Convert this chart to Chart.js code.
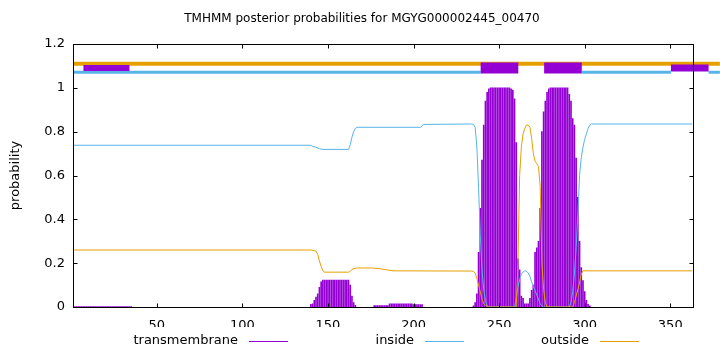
<!DOCTYPE html>
<html>
<head>
<meta charset="utf-8">
<title>TMHMM posterior probabilities</title>
<script src="https://cdn.jsdelivr.net/npm/chart.js@4"></script>
<style>
  body { margin: 0; background: #fff; }
</style>
</head>
<body>
<canvas id="tmhmm" width="720" height="352"></canvas>
<script>
    // ---- data ----
    const plotTitle = 'TMHMM posterior probabilities for MGYG000002445_00470';
    const seqLength = 363;
    const xTicks = [50, 100, 150, 200, 250, 300, 350];
    const yTicks = [0, 0.2, 0.4, 0.6, 0.8, 1, 1.2];
    const yTickLabels = ['0', '0.2', '0.4', '0.6', '0.8', '1', '1.2'];

    // transmembrane posterior, [residue, probability] (drawn as impulses)
    const tmPosterior = [
        [1,.002],[2,.002],[3,.002],[4,.002],[5,.002],[6,.002],[7,.002],[8,.002],[9,.002],[10,.002],
        [11,.002],[12,.002],[13,.002],[14,.002],[15,.002],[16,.002],[17,.002],[18,.002],[19,.002],[20,.002],
        [21,.002],[22,.002],[23,.002],[24,.002],[25,.002],[26,.002],[27,.002],[28,.002],[29,.002],[30,.002],
        [31,.002],[32,.002],[33,.002],[34,.002],[35,.002],
        [140,.012],[141,.015],[142,.03],[143,.045],[144,.06],[145,.09],[146,.115],[147,.123],[148,.123],[149,.123],
        [150,.123],[151,.123],[152,.123],[153,.123],[154,.123],[155,.123],[156,.123],[157,.123],[158,.123],[159,.123],
        [160,.123],[161,.123],[162,.123],[163,.1],[164,.05],[165,.02],[166,.008],
        [177,.006],[178,.006],[179,.006],[180,.006],[181,.006],[182,.006],[183,.006],[184,.006],[185,.006],
        [186,.015],[187,.015],[188,.015],[189,.015],[190,.015],[191,.015],[192,.015],[193,.015],[194,.015],[195,.015],
        [196,.015],[197,.015],[198,.015],[199,.015],[200,.011],[201,.011],[202,.011],[203,.011],[204,.011],[205,.011],
        [235,.005],[236,.02],[237,.06],[238,.25],[239,.45],[240,.67],[241,.83],[242,.94],[243,.98],[244,.995],
        [245,1],[246,1],[247,1],[248,1],[249,1],[250,1],[251,1],[252,1],[253,1],[254,1],[255,1],[256,1],
        [257,.995],[258,.99],[259,.95],[260,.75],[261,.22],[262,.17],[263,.05],[264,.04],[265,.015],[266,.015],
        [267,.015],[268,.04],[269,.076],[270,.1],[271,.25],[272,.27],[273,.3],[274,.45],[275,.8],[276,.89],
        [277,.94],[278,.98],[279,.995],[280,1],[281,1],[282,1],[283,1],[284,1],[285,1],[286,1],[287,1],[288,1],
        [289,1],[290,1],[291,.97],[292,.94],[293,.86],[294,.83],[295,.68],[296,.5],[297,.3],[298,.18],[299,.12],
        [300,.07],[301,.03],[302,.012],[303,.005]
    ];

    // inside posterior, [residue, probability]
    const insidePosterior = [
        [1,.738],[140,.738],[141,.733],[143,.729],[145,.722],[147,.719],[162,.719],[163,.74],[164,.775],[165,.8],
        [166,.815],[167,.82],[204,.82],[205,.826],[206,.833],[234,.835],[235,.833],[236,.82],[237,.73],[238,.54],
        [239,.33],[240,.17],[241,.08],[242,.03],[243,.005],[244,0],[259,0],[260,.04],[261,.09],[262,.125],
        [263,.15],[264,.16],[265,.165],[266,.163],[267,.155],[268,.14],[269,.115],[270,.095],[271,.075],[272,.055],
        [273,.035],[274,.015],[275,.005],[276,0],[291,0],[292,.02],[293,.07],[294,.15],[295,.27],[296,.42],
        [297,.6],[298,.68],[299,.73],[300,.765],[301,.79],[302,.815],[303,.83],[304,.835],[363,.835]
    ];

    // outside posterior, [residue, probability]
    const outsidePosterior = [
        [1,.26],[140,.26],[142,.257],[143,.255],[144,.24],[145,.21],[146,.185],[147,.165],[148,.159],[162,.159],
        [163,.163],[164,.172],[166,.177],[168,.178],[176,.178],[180,.175],[184,.17],[188,.165],[234,.164],[235,.162],
        [236,.155],[237,.13],[238,.1],[239,.07],[240,.035],[241,.015],[242,.008],[243,.003],[244,0],[260,0],
        [261,.2],[262,.6],[263,.73],[264,.79],[265,.815],[266,.83],[267,.83],[268,.82],[269,.77],[270,.7],
        [271,.665],[272,.655],[273,.64],[274,.55],[275,.2],[276,.08],[277,.02],[278,0],[293,0],[294,.02],
        [295,.05],[296,.08],[297,.11],[298,.15],[299,.165],[363,.165]
    ];

    // predicted topology strip above the curves, [from residue, to residue]
    const outsideLevel = 1.11;
    const insideLevel = 1.071;
    const tmBoxLevel = 1.09;
    const outsideSpans = [[1, 379]];
    const insideSpans = [[1, 239.2], [298.3, 350.4], [372.4, 379]];
    const tmBoxSpans = [[7.1, 34.0], [239.2, 261.2], [276.3, 298.3], [350.4, 372.4]];

    // ---- styling ----
    const FONT = '"DejaVu Sans", sans-serif';
    const C_TM = '#9400D3';
    const C_IN = '#56B4E9';
    const C_OUT = '#E69F00';
    const boxThickness = [6, 11, 11, 7];

    function toXY(pairs) { return pairs.map(p => ({x: p[0], y: p[1]})); }

    function spanSet(span, level, color, width, order) {
        return {
            type: 'line', label: '', data: [{x: span[0], y: level}, {x: span[1], y: level}],
            borderColor: color, borderWidth: width, borderCapStyle: 'butt',
            pointRadius: 0, tension: 0, fill: false, clip: false, order: order
        };
    }

    var datasets = [
        { type: 'bar', label: 'transmembrane', data: toXY(tmPosterior),
          backgroundColor: C_TM, borderWidth: 0, barThickness: 1, order: 10 },
        { type: 'line', label: 'inside', data: toXY(insidePosterior),
          borderColor: C_IN, borderWidth: 1, pointRadius: 0, tension: 0, fill: false, order: 9 },
        { type: 'line', label: 'outside', data: toXY(outsidePosterior),
          borderColor: C_OUT, borderWidth: 1, pointRadius: 0, tension: 0, fill: false, order: 8 }
    ];
    outsideSpans.forEach(s => datasets.push(spanSet(s, outsideLevel, C_OUT, 4, 3)));
    insideSpans.forEach(s => datasets.push(spanSet(s, insideLevel, C_IN, 3, 3)));
    tmBoxSpans.forEach((s, i) => datasets.push(spanSet(s, tmBoxLevel, C_TM, boxThickness[i], 1)));

    // gnuplot-like frame with inward ticks, title on top and the key under the plot
    const framePlugin = {
        id: 'frame',
        afterDraw(chart) {
            const ctx = chart.ctx, a = chart.chartArea;
            const xs = chart.scales.x, ys = chart.scales.y;
            const l = Math.round(a.left) + 0.5, r = Math.round(a.right) + 0.5;
            const t = Math.round(a.top) + 0.5, b = Math.round(a.bottom) + 0.5;
            ctx.save();
            ctx.strokeStyle = '#000';
            ctx.lineWidth = 1;
            ctx.strokeRect(l, t, r - l, b - t);
            ctx.beginPath();
            xTicks.forEach(v => {
                const px = Math.round(xs.getPixelForValue(v)) + 0.5;
                ctx.moveTo(px, b); ctx.lineTo(px, b - 4);
                ctx.moveTo(px, t); ctx.lineTo(px, t + 4);
            });
            yTicks.forEach(v => {
                const py = Math.round(ys.getPixelForValue(v)) + 0.5;
                ctx.moveTo(l, py); ctx.lineTo(l + 4, py);
                ctx.moveTo(r, py); ctx.lineTo(r - 4, py);
            });
            ctx.stroke();

            ctx.fillStyle = '#000';
            ctx.textBaseline = 'middle';
            ctx.textAlign = 'center';
            ctx.font = '12px ' + FONT;
            ctx.fillText(plotTitle, 362, 19);

            // key: text right aligned, then a short line sample
            const keyRight = [238, 414, 589];
            const keyColors = [C_TM, C_IN, C_OUT];
            const keyY = 341;
            ctx.font = '13px ' + FONT;
            ctx.textAlign = 'right';
            for (let i = 0; i < 3; i++) {
                ctx.fillStyle = '#000';
                ctx.fillText(chart.data.datasets[i].label, keyRight[i], keyY);
                ctx.fillStyle = keyColors[i];
                ctx.fillRect(keyRight[i] + 11, keyY, 39, 1);
            }
            ctx.restore();
        }
    };

    new Chart(document.getElementById('tmhmm').getContext('2d'), {
        type: 'bar',
        data: { datasets: datasets },
        options: {
            responsive: false,
            animation: false,
            layout: { padding: { left: 0, right: 27.5, top: 44, bottom: 25 } },
            plugins: {
                legend: { display: false },
                tooltip: { enabled: false },
                title: { display: false }
            },
            scales: {
                x: {
                    type: 'linear', min: 1, max: seqLength, offset: false,
                    grid: { display: false, drawTicks: false },
                    border: { display: false },
                    afterBuildTicks: s => { s.ticks = xTicks.map(v => ({value: v})); },
                    afterFit: s => { s.height = 20; },
                    ticks: { color: '#000', padding: 11, maxRotation: 0, autoSkip: false,
                             font: { family: FONT, size: 13 } }
                },
                y: {
                    type: 'linear', min: 0, max: 1.2,
                    grid: { display: false, drawTicks: false },
                    border: { display: false },
                    afterBuildTicks: s => { s.ticks = yTicks.map(v => ({value: v})); },
                    afterFit: s => { s.width = 73; },
                    ticks: { color: '#000', padding: 8, autoSkip: false,
                             font: { family: FONT, size: 13 },
                             callback: (v) => yTickLabels[yTicks.indexOf(v)] },
                    title: { display: true, text: 'probability', color: '#000',
                             font: { family: FONT, size: 13 }, padding: { top: 8, bottom: 0 } }
                }
            }
        },
        plugins: [framePlugin]
    });
</script>
</body>
</html>
